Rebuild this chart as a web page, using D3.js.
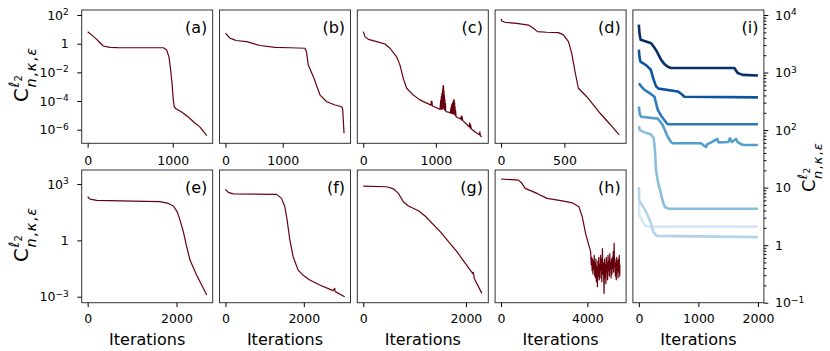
<!DOCTYPE html>
<html>
<head>
<meta charset="utf-8">
<script src="https://cdnjs.cloudflare.com/ajax/libs/d3/7.8.5/d3.min.js"></script>
<style>
body{margin:0;background:#fff;}
svg{display:block;font-family:"DejaVu Sans",sans-serif;}
.tick text{font-size:12.5px;fill:#000;}
</style>
</head>
<body>
<svg id="fig" width="830" height="351"></svg>
<script>
// cost per iteration, [iteration, value]
var dataA = [[0,6.9],[47,4.1],[106,2.0],[145,1.17],[184,0.69],[263,0.56],[350,0.53],[600,0.52],[890,0.52],[929,0.36],[956,0.12],[976,0.014],[992,1.7e-3],[1007,1.1e-4],[1019,3.8e-5],[1039,2.9e-5],[1105,1.7e-5],[1183,7.6e-6],[1250,3.3e-6],[1321,1.5e-6],[1400,3.9e-7]];
var dataB = [[0,5.4],[80,2.4],[137,2.0],[184,1.66],[371,1.38],[603,0.75],[865,0.56],[1127,0.52],[1389,0.48],[1416,0.26],[1447,0.032],[1535,5e-3],[1652,2.6e-4],[1769,8.9e-5],[1914,5.3e-5],[2031,4e-5],[2048,2.4e-5],[2071,5.6e-7]];
var dataC = [[0,6.9],[24,3.1],[70,2.0],[185,1.38],[300,0.95],[368,0.48],[460,0.12],[506,0.032],[551,3.8e-3],[598,7.8e-4],[689,2.6e-4],[781,1.2e-4],[850,8e-5],[900,6.3e-5],[930,5e-5],[938,1e-4],[942,5.5e-5],[946,9e-5],[952,4.5e-5],[1000,3.5e-5],[1030,3e-5],[1057,2.6e-5],
  [1066,1.1e-4],[1070,2.8e-5],[1074,2.0e-4],[1078,3.0e-5],[1082,3.2e-4],[1085,2.6e-5],[1088,4.0e-4],[1091,3.0e-5],[1094,7.0e-4],[1097,3.5e-5],[1100,1.26e-3],[1103,4.0e-5],[1106,1.1e-3],[1109,3.0e-5],[1112,5.0e-4],[1115,2.6e-5],[1118,2.5e-4],[1121,2.4e-5],[1124,1.3e-4],[1128,2.2e-5],[1132,7e-5],[1136,2.0e-5],[1141,1.8e-5],
  [1170,1.7e-5],[1200,1.5e-5],[1205,3e-5],[1209,1.4e-5],[1213,4.5e-5],[1217,1.4e-5],[1221,6e-5],[1225,1.3e-5],[1229,7e-5],[1233,1.3e-5],[1237,9e-5],[1241,1.3e-5],[1245,1.15e-4],[1249,1.3e-5],[1252,1.2e-4],[1255,1.2e-5],[1258,8e-5],[1261,1.1e-5],[1264,4e-5],[1268,1e-5],[1272,2.2e-5],[1278,8.1e-6],
  [1300,7e-6],[1340,5.5e-6],[1350,9e-6],[1355,4.8e-6],[1362,8e-6],[1370,4.3e-6],[1420,2.5e-6],[1460,1.6e-6],[1466,3e-6],[1472,1.3e-6],[1478,2.2e-6],[1490,1.1e-6],[1550,6.3e-7],[1600,4.5e-7],[1606,7e-7],[1612,3.8e-7],[1631,3.2e-7]];
var dataD = [[0,53],[6,38],[32,31],[124,26],[216,20],[256,11.8],[287,6.9],[361,6.3],[453,5.9],[492,4.1],[532,1.38],[558,0.21],[584,0.011],[610,7.8e-4],[677,2e-4],[782,1.4e-5],[860,2.4e-6],[932,4.3e-7]];
var dataE = [[0,210],[53,158],[204,135],[1027,123],[1628,115],[1815,93],[1928,68],[2018,33],[2078,12],[2153,2.9],[2228,0.46],[2303,0.089],[2454,0.014],[2566,4.2e-3],[2679,1.23e-3]];
var dataF = [[0,525],[73,360],[200,300],[1305,282],[1432,173],[1516,62],[1575,12],[1643,1.05],[1728,0.135],[1855,0.026],[1982,0.014],[2152,7.8e-3],[2407,4.2e-3],[2746,2.1e-3],[2789,2.8e-3],[2800,1.9e-3],[2814,1.8e-3],[3043,1e-3]];
var dataG = [[0,780],[458,720],[587,560],[684,318],[782,115],[880,68],[1075,38],[1205,20],[1498,2.9],[1824,0.25],[2084,0.026],[2136,0.017],[2145,0.02],[2162,9.4e-3],[2312,1.5e-3]];
var dataH = [[0,1860],[810,1620],[967,1100],[1121,590],[1667,318],[2134,173],[2908,123],[3299,100],[3609,62],[3765,18],[3920,2.3],[4153,0.25],
  [4180,0.05],[4200,0.126],[4220,0.025],[4240,0.1],[4260,0.016],[4280,0.079],[4300,0.032],[4320,0.158],[4340,0.0126],[4360,0.063],[4380,0.01],[4400,0.1],[4420,6.3e-3],[4440,0.04],[4466,3.4e-3],[4490,0.079],[4510,0.0126],[4530,0.126],[4550,7.9e-3],[4570,0.05],[4590,0.01],[4610,0.158],[4630,0.025],[4650,0.1],[4670,6.3e-3],[4699,0.37],[4720,0.016],[4745,0.063],[4774,1.5e-3],[4800,0.1],[4820,0.01],[4840,0.05],[4860,5e-3],[4880,0.126],[4900,0.02],[4920,0.063],[4940,7.9e-3],[4960,0.158],[4980,0.025],[5000,0.079],[5020,0.0126],[5040,0.2],[5060,0.032],[5080,0.063],[5100,0.01],[5120,0.1],[5140,0.016],[5160,0.126],[5180,0.032],[5200,0.25],[5220,0.02],[5240,0.69],[5260,0.04],[5280,0.1],[5300,0.0126],[5320,0.063],[5340,7.9e-3],[5360,0.126],[5380,0.025],[5400,0.079],[5420,0.01],[5440,0.1],[5460,0.02],[5480,0.158],[5500,0.0126],[5510,0.05]];

// panel (i), seven runs, darkest first
var lineI1 = [[0,6800],[10,4800],[30,3700],[120,3470],[206,3240],[250,2800],[290,2450],[374,1660],[430,1400],[486,1260],[540,1200],[1603,1200],[1640,1050],[1659,980],[1743,910],[2000,890]];
var lineI2 = [[0,2500],[10,1900],[25,1550],[122,1350],[200,1120],[240,800],[262,690],[290,575],[330,525],[654,470],[720,420],[765,380],[2000,370]];
var lineI3 = [[0,650],[40,575],[94,500],[180,440],[262,380],[318,224],[380,174],[430,148],[486,126],[2000,126]];
var lineI4 = [[0,257],[15,190],[40,170],[318,158],[400,123],[486,76],[540,62],[570,59],[1045,59],[1100,53],[1128,51],[1150,57],[1200,60],[1317,70],[1340,61],[1500,62],[1531,72],[1560,62],[1631,70],[1660,62],[1730,56],[1770,55],[2000,55]];
var lineI5 = [[0,117],[15,100],[100,91],[200,85],[250,72],[270,45],[288,20],[327,11.7],[355,9.1],[383,6.9],[411,5.4],[439,4.6],[495,4.3],[2000,4.3]];
var lineI6 = [[0,10.2],[7,6.0],[103,4.1],[187,2.7],[243,1.7],[300,1.45],[2000,1.38]];
var lineI7 = [[0,5.6],[7,3.3],[103,2.2],[160,2.1],[2000,2.1]];

var xTicksA = [0,1000], xTicksB = [0,1000], xTicksC = [0,1000], xTicksD = [0,500];
var xTicksE = [0,2000], xTicksF = [0,2000], xTicksG = [0,2000], xTicksH = [0,4000];
var xTicksI = [0,1000,2000];
var yTicksTop = [1e2,1,1e-2,1e-4,1e-6];
var yTicksBottom = [1e3,1,1e-3];
var yTicksI = [1e4,1e3,1e2,10,1,1e-1];

var svg = d3.select('#fig');
var red = '#67000d';
var blues = ['#08306b','#0b559f','#2b7bba','#539ecd','#89bedc','#b3d3e8','#d6e6f4'];

var colX = [81.7,219.5,357.3,495.1,632.9], pw = 131;
var rowY = [[10,143.3],[170,302.7]];
var rowDom = [[Math.pow(10,-6.95),Math.pow(10,2.35)],[Math.pow(10,-3.32),Math.pow(10,3.75)]];

var panels = [
	{tag:'(a)', data:dataA, n:1400, xt:xTicksA, row:0, col:0, yt:yTicksTop},
	{tag:'(b)', data:dataB, n:2080, xt:xTicksB, row:0, col:1},
	{tag:'(c)', data:dataC, n:1640, xt:xTicksC, row:0, col:2},
	{tag:'(d)', data:dataD, n:940, xt:xTicksD, row:0, col:3},
	{tag:'(e)', data:dataE, n:2680, xt:xTicksE, row:1, col:0, yt:yTicksBottom},
	{tag:'(f)', data:dataF, n:3040, xt:xTicksF, row:1, col:1},
	{tag:'(g)', data:dataG, n:2320, xt:xTicksG, row:1, col:2},
	{tag:'(h)', data:dataH, n:5520, xt:xTicksH, row:1, col:3}
];

function powLabel(t, v) {
	t.text(null);
	var e = Math.round(Math.log10(v));
	if (e == 0) { t.text('1'); return; }
	if (e == 1) { t.text('10'); return; }
	t.append('tspan').text('10');
	t.append('tspan').attr('dy','-0.5em').style('font-size','9px').text(e < 0 ? '\u2212' + (-e) : e);
}

function styleAxis(g) {
	g.select('.domain').remove();
	g.attr('font-size',null).attr('font-family',null);
	g.selectAll('.tick line').attr('stroke','#000').attr('stroke-width',1);
}

// C^{l2}_{n,kappa,eps}, rotated; sz scales the whole label
function yLabel(px, py, sz) {
	var g = svg.append('g').attr('transform','translate(' + px + ',' + py + ') rotate(-90) scale(' + sz + ')');
	g.append('text').attr('x',0).attr('y',0).attr('font-size',20).text('C');
	g.append('text').attr('x',14.5).attr('y',-9).attr('font-size',14).attr('font-style','italic').text('\u2113');
	g.append('text').attr('x',20.5).attr('y',-6).attr('font-size',10).text('2');
	var s = g.append('text').attr('x',14.5).attr('y',7.5).attr('font-size',14.5).attr('letter-spacing',1.2);
	s.append('tspan').attr('font-style','italic').text('n');
	s.append('tspan').text(',');
	s.append('tspan').attr('font-style','italic').text('\u03ba');
	s.append('tspan').text(',');
	s.append('tspan').attr('font-style','italic').text('\u03b5');
}

function frame(x0, y0, w, h, id) {
	svg.append('clipPath').attr('id', id).append('rect')
		.attr('x',x0).attr('y',y0).attr('width',w).attr('height',h);
}

var line = function (x, y) {
	return d3.line().x(function (d) { return x(d[0]); }).y(function (d) { return y(d[1]); });
};

panels.forEach(function (p, k) {
	var x0 = colX[p.col], y0 = rowY[p.row][0], y1 = rowY[p.row][1];
	var x = d3.scaleLinear().domain([-0.05 * p.n, 1.05 * p.n]).range([x0, x0 + pw]);
	var y = d3.scaleLog().domain(rowDom[p.row]).range([y1, y0]);
	frame(x0, y0, pw, y1 - y0, 'clip' + k);

	svg.append('path').datum(p.data)
		.attr('clip-path','url(#clip' + k + ')')
		.attr('d', line(x, y))
		.attr('fill','none').attr('stroke',red).attr('stroke-width',1.2)
		.attr('stroke-linejoin','round');

	svg.append('rect').attr('x',x0).attr('y',y0).attr('width',pw).attr('height',y1 - y0)
		.attr('fill','none').attr('stroke','#333').attr('stroke-width',1);

	var gx = svg.append('g').attr('transform','translate(0,' + y1 + ')')
		.call(d3.axisBottom(x).tickValues(p.xt).tickSize(4.4).tickPadding(p.row ? 7.5 : 8.4).tickFormat(d3.format('d')));
	styleAxis(gx);

	if (p.yt) {
		var gy = svg.append('g').attr('transform','translate(' + x0 + ',0)')
			.call(d3.axisLeft(y).tickValues(p.yt).tickSize(4.4).tickPadding(8.5));
		styleAxis(gy);
		gy.selectAll('.tick text').each(function (v) { powLabel(d3.select(this), v); });
	}

	svg.append('text').attr('x',x0 + pw - 5.4).attr('y',y0 + 23)
		.attr('text-anchor','end').attr('font-size',16).text(p.tag);

	if (p.row == 1)
		svg.append('text').attr('x',x0 + pw / 2).attr('y',345)
			.attr('text-anchor','middle').attr('font-size',16).text('Iterations');
});

// panel (i)
(function () {
	var x0 = colX[4], y0 = 10, y1 = 302.7;
	var x = d3.scaleLinear().domain([-100, 2100]).range([x0, x0 + pw]);
	var y = d3.scaleLog().domain([0.1, Math.pow(10,4.087)]).range([y1, y0]);
	frame(x0, y0, pw, y1 - y0, 'clipI');
	var runs = [lineI1, lineI2, lineI3, lineI4, lineI5, lineI6, lineI7];
	for (var i = runs.length - 1; i >= 0; i--) {
		svg.append('path').datum(runs[i])
			.attr('clip-path','url(#clipI)')
			.attr('d', line(x, y))
			.attr('fill','none').attr('stroke',blues[i]).attr('stroke-width',2.6)
			.attr('stroke-linejoin','round');
	}
	svg.append('rect').attr('x',x0).attr('y',y0).attr('width',pw).attr('height',y1 - y0)
		.attr('fill','none').attr('stroke','#333').attr('stroke-width',1);

	var gx = svg.append('g').attr('transform','translate(0,' + y1 + ')')
		.call(d3.axisBottom(x).tickValues(xTicksI).tickSize(4.4).tickPadding(7.5).tickFormat(d3.format('d')));
	styleAxis(gx);

	var minor = y.ticks().filter(function (v) { return yTicksI.indexOf(v) < 0; });
	var gm = svg.append('g').attr('transform','translate(' + (x0 + pw) + ',0)')
		.call(d3.axisRight(y).tickValues(minor).tickSize(2.5).tickFormat(''));
	styleAxis(gm);

	var gy = svg.append('g').attr('transform','translate(' + (x0 + pw) + ',0)')
		.call(d3.axisRight(y).tickValues(yTicksI).tickSize(4.4).tickPadding(6.7));
	styleAxis(gy);
	gy.selectAll('.tick text').each(function (v) { powLabel(d3.select(this), v); });

	svg.append('text').attr('x',x0 + pw - 5.4).attr('y',y0 + 23)
		.attr('text-anchor','end').attr('font-size',16).text('(i)');
	svg.append('text').attr('x',x0 + pw / 2).attr('y',345)
		.attr('text-anchor','middle').attr('font-size',16).text('Iterations');
})();

yLabel(28, 102, 1);
yLabel(28, 262, 1);
yLabel(815, 192, 0.9);
</script>
</body>
</html>
